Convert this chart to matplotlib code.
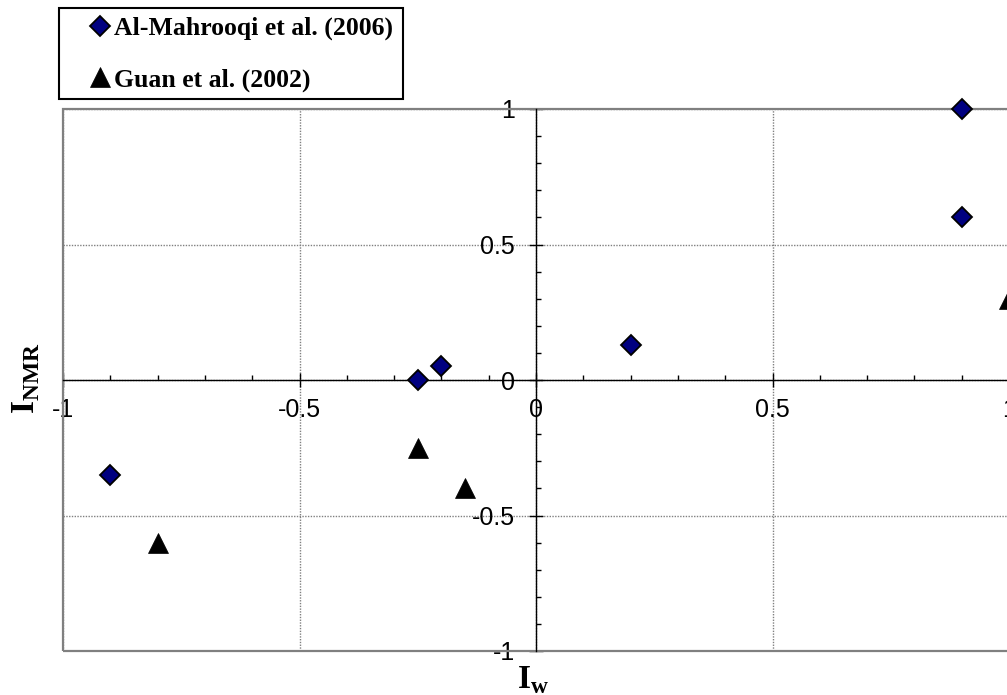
import matplotlib
matplotlib.use("Agg")
import matplotlib.pyplot as plt
from matplotlib.ticker import MultipleLocator
from matplotlib.patches import Rectangle

plt.rcParams['mathtext.fontset'] = 'custom'
plt.rcParams['mathtext.rm'] = 'Liberation Serif'
plt.rcParams['mathtext.bf'] = 'Liberation Serif:bold'

# wettability index from Amott-Harvey (I_w) vs. NMR-derived index
mahrooqi_iw = [-0.9, -0.25, -0.2, 0.2, 0.9, 0.9]
mahrooqi_inmr = [-0.35, 0.0, 0.05, 0.13, 1.0, 0.6]
guan_iw = [-0.8, -0.25, -0.15, 1.0]
guan_inmr = [-0.6, -0.25, -0.4, 0.3]
tick_vals = [-1, -0.5, 0, 0.5, 1]

W, H = 1007, 695
fig = plt.figure(figsize=(W / 100, H / 100), dpi=100)
ax = fig.add_axes([63 / W, 44 / H, 946 / W, 542 / H])
ax.set_xlim(-1, 1)
ax.set_ylim(-1, 1)

# axes cross at the origin
for side in ['left', 'bottom']:
    ax.spines[side].set_position(('data', 0))
    ax.spines[side].set_color('black')
    ax.spines[side].set_linewidth(1.0)
for side in ['top', 'right']:
    ax.spines[side].set_visible(False)

# plot-area frame
ax.add_patch(Rectangle((0, 0), 1, 1, transform=ax.transAxes, fill=False,
                       edgecolor='#808080', lw=1.6, clip_on=False, zorder=1))

ax.xaxis.set_minor_locator(MultipleLocator(0.1))
ax.yaxis.set_minor_locator(MultipleLocator(0.1))
ax.set_xticks(tick_vals)
ax.set_yticks(tick_vals)
ax.set_xticklabels([f"{v:g}" for v in tick_vals])
ax.set_yticklabels([f"{v:g}" for v in tick_vals])

ax.tick_params(which='major', direction='inout', length=10, width=1,
               labelsize=18, color='black')
ax.tick_params(which='minor', direction='in', length=3.5, width=1, color='black')
ax.tick_params(axis='x', which='major', pad=8)
ax.tick_params(axis='y', which='major', pad=10)
for lab in ax.get_xticklabels() + ax.get_yticklabels():
    lab.set_fontfamily('Liberation Sans')

ax.grid(which='major', linestyle=(0, (1, 1)), color='#808080', lw=1)
ax.set_axisbelow(True)

ax.plot(mahrooqi_iw, mahrooqi_inmr, ls='none', marker='D', ms=10,
        mfc='#000080', mec='black', mew=1.3, clip_on=False, zorder=4,
        label='Al-Mahrooqi et al. (2006)')
ax.plot(guan_iw, guan_inmr, ls='none', marker='^', ms=14,
        mfc='black', mec='black', mew=0.5, clip_on=False, zorder=4,
        label='Guan et al. (2002)')

ax.set_xlabel(r'$\mathbf{I}_{\mathbf{w}}$', fontsize=24)
ax.set_ylabel(r'$\mathbf{I}_{\mathbf{NMR}}$', fontsize=24)
ax.xaxis.set_label_coords((533 - 63) / 946, (651 - 679) / 542)
ax.yaxis.set_label_coords((25 - 63) / 946, (651 - 378) / 542)
ax.xaxis.label.set_va('center')
ax.yaxis.label.set_va('center')

# legend box in the top-left corner
fig.patches.append(Rectangle((59 / W, 1 - 99 / H), 344 / W, 91 / H,
                             transform=fig.transFigure, fill=False,
                             edgecolor='black', lw=1.5))
fig.legend(loc='upper left', bbox_to_anchor=(89 / W, 1 - 17 / H),
           frameon=False, borderpad=0, borderaxespad=0, handlelength=0.85,
           handletextpad=0.12, labelspacing=1.08, numpoints=1,
           prop={'family': 'Liberation Serif', 'weight': 'bold', 'size': 18.5})

fig.savefig('out.png', dpi=100)
